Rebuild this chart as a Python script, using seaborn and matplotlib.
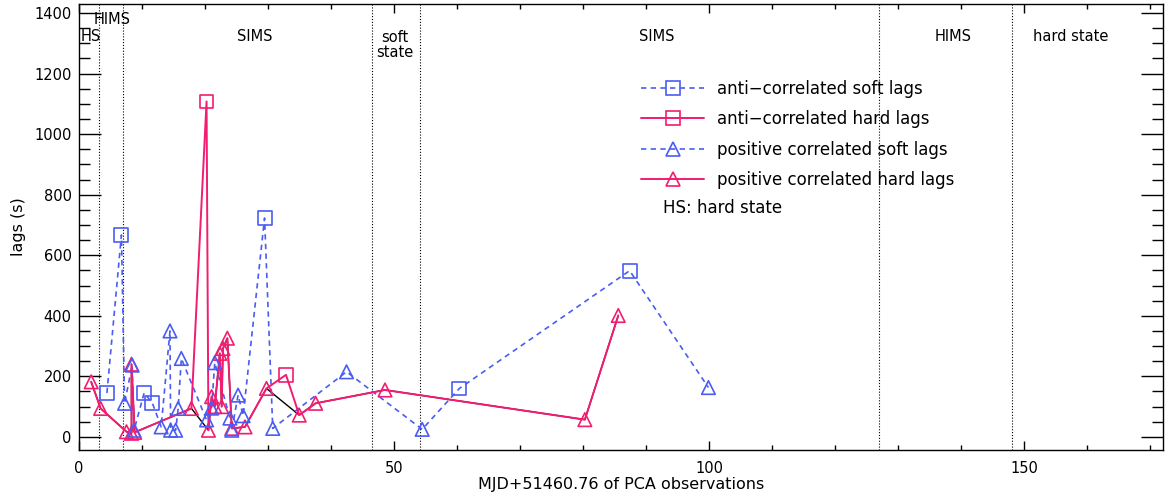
import numpy as np
import pandas as pd
import matplotlib
matplotlib.use("Agg")
import matplotlib.pyplot as plt
import matplotlib.transforms as mtransforms
from matplotlib.lines import Line2D
from matplotlib.ticker import MultipleLocator
import seaborn as sns

# ---------------- data ----------------
soft_anti_x = [4.5, 6.8, 10.4, 11.7, 29.5, 60.4, 87.4]
soft_anti_y = [145, 667, 145, 112, 723, 160, 549]

hard_anti_x = [20.3, 32.9]
hard_anti_y = [1108, 205]

soft_pos_x = [7.3, 8.5, 8.8, 13.1, 14.5, 14.6, 15.4, 15.8, 16.3, 20.3, 21.1,
              21.6, 24.0, 24.3, 25.3, 26.1, 30.8, 42.5, 54.5, 99.9]
soft_pos_y = [111, 237, 22, 33, 350, 22, 22, 94, 259, 56, 95,
              245, 62, 22, 138, 70, 28, 215, 25, 163]

hard_pos_x = [2.0, 3.5, 7.6, 8.4, 8.4, 8.9, 17.9, 20.6, 21.1, 21.6, 22.4,
              22.7, 22.9, 23.6, 24.3, 26.4, 29.8, 35.0, 37.6, 48.6, 80.3, 85.6]
hard_pos_y = [182, 94, 17, 12, 240, 15, 94, 22, 133, 100, 276,
              100, 292, 326, 28, 33, 160, 72, 111, 155, 57, 401]

state_bounds = [3.2, 7.0, 46.5, 54.1, 127.0, 148.1]
state_labels = ["HS", "HIMS", "SIMS", "soft\nstate", "SIMS", "HIMS", "hard state"]
state_label_x = [2.0, 5.3, 28.0, 50.1, 91.7, 138.7, 157.3]
state_label_y = [0.926, 0.966, 0.926, 0.908, 0.926, 0.926, 0.926]

legend_labels = ["anti\u2212correlated soft lags", "anti\u2212correlated hard lags",
                 "positive correlated soft lags", "positive correlated hard lags"]

BLUE = "#4a5cf2"
PINK = "#f21c70"

# ---------------- style ----------------
sns.set_theme(style="ticks")
plt.rcParams["font.family"] = ["DejaVu Sans"]
plt.rcParams["axes.linewidth"] = 1.0
plt.rcParams["text.color"] = "black"
plt.rcParams["axes.labelcolor"] = "black"
plt.rcParams["xtick.color"] = "black"
plt.rcParams["ytick.color"] = "black"
FS = 10.5
FS_LEG = 12
FS_LAB = 11.5

fig = plt.figure(figsize=(11.69, 5.01), dpi=100)
ax = fig.add_axes([0.0672, 0.1026, 0.9277, 0.8894])

soft_df = pd.DataFrame({"x": soft_anti_x + soft_pos_x, "y": soft_anti_y + soft_pos_y})
soft_df = soft_df.sort_values(["x", "y"], kind="mergesort").reset_index(drop=True)
hard_df = pd.DataFrame({"x": hard_anti_x + hard_pos_x, "y": hard_anti_y + hard_pos_y})
hard_df = hard_df.sort_values(["x", "y"], kind="mergesort").reset_index(drop=True)
hpos_df = pd.DataFrame({"x": hard_pos_x, "y": hard_pos_y})
hpos_df = hpos_df.sort_values(["x", "y"], kind="mergesort").reset_index(drop=True)

# connecting lines
sns.lineplot(data=hpos_df, x="x", y="y", sort=False, estimator=None, color="black",
             lw=1.0, ax=ax, zorder=1)
sns.lineplot(data=soft_df, x="x", y="y", sort=False, estimator=None, color=BLUE,
             lw=1.2, linestyle=(0, (3.2, 2.6)), ax=ax, zorder=2)
sns.lineplot(data=hard_df, x="x", y="y", sort=False, estimator=None, color=PINK,
             lw=1.4, ax=ax, zorder=2)

# markers
sns.scatterplot(x=soft_anti_x, y=soft_anti_y, marker="s", s=100, facecolor="none",
                edgecolor=BLUE, linewidth=1.2, ax=ax, zorder=4)
sns.scatterplot(x=hard_anti_x, y=hard_anti_y, marker="s", s=100, facecolor="none",
                edgecolor=PINK, linewidth=1.2, ax=ax, zorder=4)
sns.scatterplot(x=hard_pos_x, y=hard_pos_y, marker="^", s=95, facecolor="none",
                edgecolor=PINK, linewidth=1.2, ax=ax, zorder=3)
sns.scatterplot(x=soft_pos_x, y=soft_pos_y, marker="^", s=95, facecolor="none",
                edgecolor=BLUE, linewidth=1.2, ax=ax, zorder=3)

# state boundaries
for b in state_bounds:
    ax.axvline(b, color="black", lw=0.8, ls=(0, (1, 1.6)), zorder=0)
trans = mtransforms.blended_transform_factory(ax.transData, ax.transAxes)
for lab, lx, ly in zip(state_labels, state_label_x, state_label_y):
    ax.text(lx, ly, lab, transform=trans, ha="center", va="center", fontsize=FS,
            linespacing=1.0, color="black")

# legend
handles = [
    Line2D([], [], color=BLUE, ls=(0, (3.2, 2.6)), lw=1.2, marker="s", ms=10,
           mfc="none", mec=BLUE, mew=1.2),
    Line2D([], [], color=PINK, ls="-", lw=1.4, marker="s", ms=10,
           mfc="none", mec=PINK, mew=1.2),
    Line2D([], [], color=BLUE, ls=(0, (3.2, 2.6)), lw=1.2, marker="^", ms=10,
           mfc="none", mec=BLUE, mew=1.2),
    Line2D([], [], color=PINK, ls="-", lw=1.4, marker="^", ms=10,
           mfc="none", mec=PINK, mew=1.2),
]
leg = ax.legend(handles, legend_labels, loc="upper left", bbox_to_anchor=(0.5186, 0.830),
                frameon=False, fontsize=FS_LEG, handlelength=3.8, handletextpad=0.76,
                labelspacing=0.75, borderpad=0, borderaxespad=0, numpoints=1)
for t in leg.get_texts():
    t.set_color("black")
ax.text(0.539, 0.543, "HS: hard state", transform=ax.transAxes, ha="left",
        va="center", fontsize=FS_LEG, color="black")

# axes
ax.set_xlim(0, 172)
ax.set_ylim(-42, 1430)
ax.xaxis.set_major_locator(MultipleLocator(50))
ax.xaxis.set_minor_locator(MultipleLocator(10))
ax.yaxis.set_major_locator(MultipleLocator(200))
ax.yaxis.set_minor_locator(MultipleLocator(50))
ax.tick_params(which="both", direction="in", top=True, right=True, colors="black",
               width=1.0, labelsize=FS)
ax.tick_params(axis="x", which="major", length=6.7, pad=8)
ax.tick_params(axis="x", which="minor", length=3.3)
ax.tick_params(axis="y", which="major", length=15.8, pad=5)
ax.tick_params(axis="y", which="minor", length=8.0)
for sp in ax.spines.values():
    sp.set_visible(True)
    sp.set_color("black")
    sp.set_linewidth(1.0)
ax.set_xlabel("MJD+51460.76 of PCA observations", fontsize=FS_LAB, labelpad=1)
ax.set_ylabel("lags (s)", fontsize=FS_LAB, labelpad=6)

fig.savefig("out.png", dpi=100)
